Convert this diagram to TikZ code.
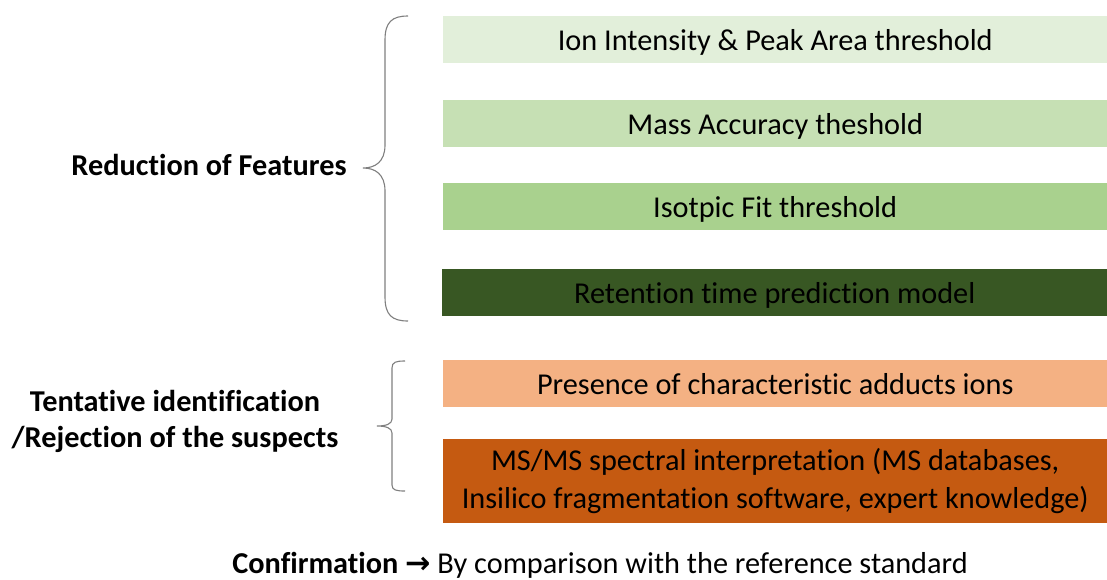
\documentclass[tikz,border=0pt]{standalone}
\usepackage{fontspec}
\setmainfont[Ligatures=NoCommon]{Carlito}
\newfontfamily\symfont{DejaVu Sans}
\definecolor{gA}{HTML}{E2EFDA}
\definecolor{gB}{HTML}{C6E0B4}
\definecolor{gC}{HTML}{A9D18E}
\definecolor{gD}{HTML}{385723}
\definecolor{oA}{HTML}{F4B183}
\definecolor{oB}{HTML}{C55A11}
\definecolor{braceclr}{HTML}{7F7F7F}
\tikzset{
  stepbox/.style={draw=none, minimum width=664pt, minimum height=47pt,
    anchor=north west, inner sep=0pt, align=center,
    text height=21pt, text depth=0pt, font=\fontsize{30.3}{37}\selectfont},
  tallbox/.style={stepbox, minimum height=84pt, text height=, text depth=,
    font=\fontsize{30.3}{37.5}\selectfont},
  grouplabel/.style={align=center, font=\fontsize{30.3}{36.5}\selectfont\bfseries},
  bracepath/.style={draw=braceclr, line width=1.1pt}
}
\begin{document}
\begin{tikzpicture}[x=1pt,y=-1pt]
\useasboundingbox (0,0) rectangle (1107,579);

% steps that reduce the feature list
\node[stepbox, fill=gA] (s1) at (443,16) {Ion Intensity \& Peak Area threshold};
\node[stepbox, fill=gB] (s2) at (443,100) {Mass Accuracy theshold};
\node[stepbox, fill=gC] (s3) at (443,183) {Isotpic Fit threshold};
\node[stepbox, fill=gD, minimum width=665pt] (s4) at (442,269) {Retention time prediction model};

% steps for identification
\node[stepbox, fill=oA] (s5) at (443,360) {Presence of characteristic adducts ions};
\node[tallbox, fill=oB] (s6) at (443,439) {MS/MS spectral interpretation (MS databases,\\Insilico fragmentation software, expert knowledge)};

% group labels
\node[grouplabel] (g1) at (209,165) {Reduction of Features};
\node[grouplabel] (g2) at (175,421.5) {Tentative identification\\/Rejection of the suspects};

% curly braces
\draw[bracepath] (408,16) .. controls (392,16) and (385,22) .. (385,40) -- (385,145)
  .. controls (385,162) and (375,168) .. (363,168)
  .. controls (375,168) and (385,174) .. (385,191) -- (385,297)
  .. controls (385,315) and (392,321) .. (408,321);
\draw[bracepath] (405,361) .. controls (396,361) and (392,362) .. (392,368) -- (392,419)
  .. controls (392,424) and (386,426) .. (377,426)
  .. controls (386,426) and (392,428) .. (392,433) -- (392,485)
  .. controls (392,490) and (396,491) .. (405,491);

% confirmation line
\node[font=\fontsize{30.3}{36}\selectfont] (conf) at (600,565)
  {\textbf{Confirmation} {\symfont\bfseries →} By comparison with the reference standard};
\end{tikzpicture}
\end{document}
